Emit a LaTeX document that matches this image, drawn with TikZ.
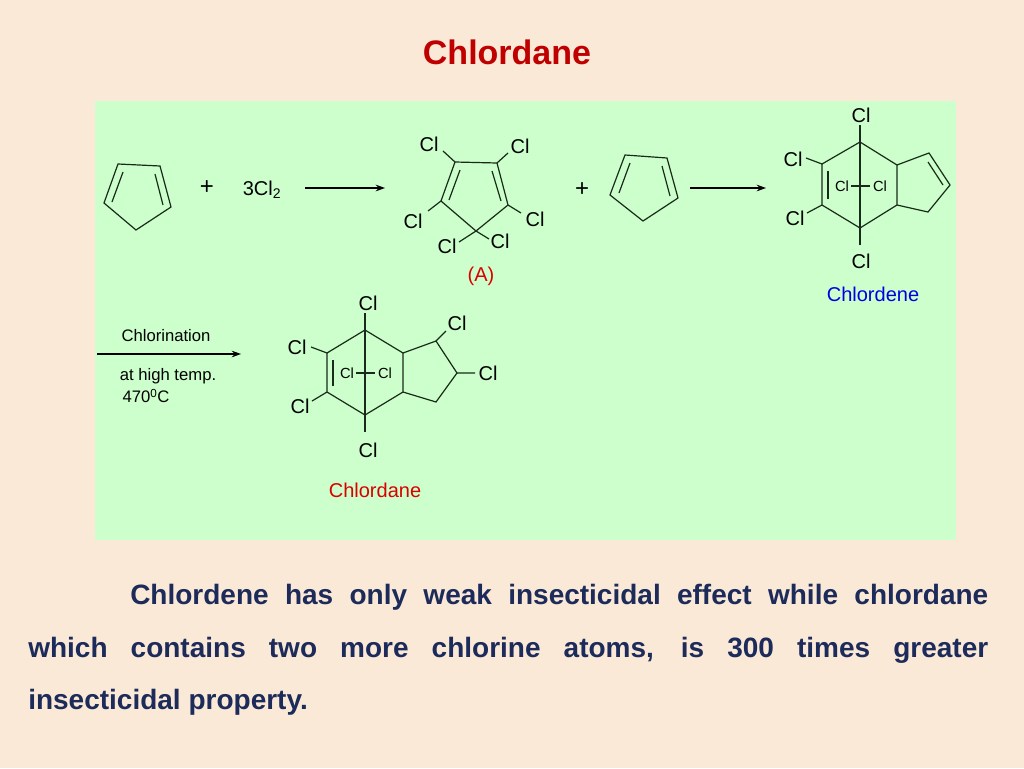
\documentclass[tikz,border=0pt]{standalone}
\usepackage{fontspec}
\setmainfont{Liberation Sans}
\usetikzlibrary{arrows.meta}
\definecolor{bg}{HTML}{FBE9D8}
\definecolor{pane}{HTML}{CCFFCC}
\definecolor{ink}{HTML}{1C2B5A}
\definecolor{ttl}{HTML}{C00000}
\definecolor{bnd}{HTML}{1A2A1A}
\tikzset{
  bd/.style={draw=bnd,line width=0.9pt},
  cl/.style={font=\fontsize{15}{15}\selectfont,inner sep=0pt,text=black},
  scl/.style={font=\fontsize{11}{11}\selectfont,inner sep=0pt,text=black},
  lbl/.style={font=\fontsize{14}{14}\selectfont,inner sep=0pt},
  arr/.style={draw=black,line width=0.9pt,-{Stealth[length=7pt,width=5pt]}},
  body/.style={font=\bfseries\fontsize{21}{21}\selectfont,text=ink,inner sep=0pt,anchor=west}
}
\begin{document}
\begin{tikzpicture}[x=0.75pt,y=-0.75pt]
\fill[bg] (0,0) rectangle (1024,768);
\useasboundingbox (0,0) rectangle (1024,768);
\fill[pane] (95,101) rectangle (956,540);
\node[font=\bfseries\fontsize{25.5}{25.5}\selectfont,text=ttl] (title) at (507,52) {Chlordane};

% cyclopentadiene 1
\draw[bd] (118,164)--(160,166)--(171,207)--(136,230)--(104,203)--cycle;
\draw[bd] (123,172)--(112,202) (155,174)--(163,205);
\node[font=\fontsize{18}{18}\selectfont] (p1) at (207,188) {+};
\node[lbl,font=\fontsize{15}{15}\selectfont] (cl2) at (262,190) {3Cl\textsubscript{2}};
\coordinate (a1s) at (305,188); \coordinate (a1e) at (385,188);
\draw[arr] (a1s)--(a1e);

% hexachlorocyclopentadiene (A)
\draw[bd] (455,162)--(497,163)--(508,205)--(476,231)--(441,201)--cycle;
\draw[bd] (460,170)--(449,200) (492,171)--(501,201);
\draw[bd] (455,162)--(443,151) (497,163)--(508,153) (441,201)--(428,211)
  (508,205)--(521,213) (476,231)--(459,242) (476,231)--(489,239);
\node[cl] (c1) at (429,144) {Cl};
\node[cl] (c2) at (520,146) {Cl};
\node[cl] (c3) at (413,221) {Cl};
\node[cl] (c4) at (535,219) {Cl};
\node[cl] (c5) at (447,246) {Cl};
\node[cl] (c6) at (500,241) {Cl};
\node[lbl,text=red!85!black,font=\fontsize{15}{15}\selectfont] (A) at (481,276) {(A)};

\node[font=\fontsize{18}{18}\selectfont] (p2) at (582,190) {+};
% cyclopentadiene 2
\draw[bd] (625,155)--(667,158)--(678,198)--(643,221)--(610,195)--cycle;
\draw[bd] (630,163)--(619,193) (662,166)--(670,196);
\coordinate (a2s) at (690,188); \coordinate (a2e) at (766,188);
\draw[arr] (a2s)--(a2e);

% chlordene
\draw[bd] (860,125)--(860,245);
\draw[bd] (860,142)--(822,164)--(822,205)--(860,228)--(897,205)--(897,165)--cycle;
\draw[bd] (828,171)--(828,199);
\draw[bd] (897,165)--(929,153)--(950,185)--(928,212)--(897,205);
\draw[bd] (928,162)--(943,185);
\draw[bd] (822,164)--(806,158) (822,205)--(807,213);
\draw[bd] (851,186)--(870,186);
\node[cl] (d1) at (861,115) {Cl};
\node[cl] (d2) at (861,261) {Cl};
\node[cl] (d3) at (793,159) {Cl};
\node[cl] (d4) at (795,218) {Cl};
\node[scl,fill=pane,inner sep=1pt] (d5) at (842,186) {Cl};
\node[scl,fill=pane,inner sep=1pt] (d6) at (880,186) {Cl};
\node[lbl,text=blue!90!black,font=\fontsize{15}{15}\selectfont] (chl) at (873,294) {Chlordene};

% third arrow
\coordinate (a3s) at (97,354); \coordinate (a3e) at (241,354);
\draw[arr] (a3s)--(a3e);
\node[lbl,font=\fontsize{12.5}{12.5}\selectfont] (t1) at (166,336) {Chlorination};
\node[lbl,font=\fontsize{12.5}{12.5}\selectfont] (t2) at (168,376) {at high temp.};
\node[lbl,font=\fontsize{12.5}{12.5}\selectfont] (t3) at (146,396) {470\textsuperscript{0}C};

% chlordane
\draw[bd] (365,313)--(365,432);
\draw[bd] (365,330)--(327,353)--(327,392)--(365,415)--(403,392)--(403,353)--cycle;
\draw[bd] (333,360)--(333,386);
\draw[bd] (403,353)--(436,341)--(457,373)--(436,402)--(403,392);
\draw[bd] (327,353)--(311,347) (327,392)--(312,401) (436,341)--(446,331) (457,373)--(475,373);
\draw[bd] (356,373)--(375,373);
\node[cl] (e1) at (368,303) {Cl};
\node[cl] (e2) at (368,450) {Cl};
\node[cl] (e3) at (297,347) {Cl};
\node[cl] (e4) at (300,406) {Cl};
\node[cl] (e5) at (457,323) {Cl};
\node[cl] (e6) at (488,373) {Cl};
\node[scl,fill=pane,inner sep=1pt] (e7) at (347,373) {Cl};
\node[scl,fill=pane,inner sep=1pt] (e8) at (385,373) {Cl};
\node[lbl,text=red!85!black,font=\fontsize{15}{15}\selectfont] (chd) at (375,490) {Chlordane};

% body text
\node[body] (b1) at (130,597) {\makebox[643.5pt][s]{Chlordene has only weak insecticidal effect while chlordane}};
\node[body] (b2) at (28,650) {\makebox[720pt][s]{which contains two more chlorine atoms, is 300 times greater}};
\node[body] (b3) at (28,702) {insecticidal property.};
\end{tikzpicture}
\end{document}
